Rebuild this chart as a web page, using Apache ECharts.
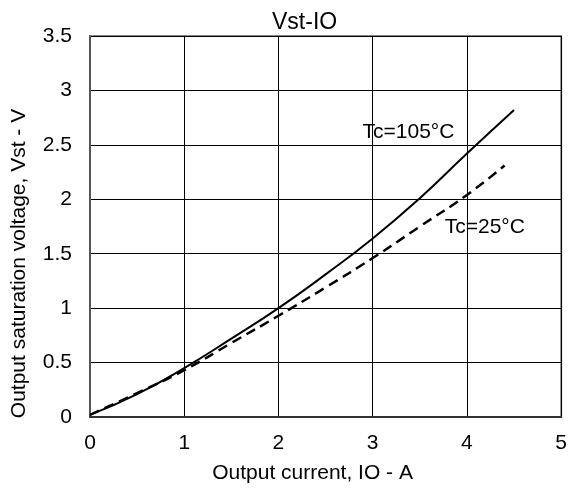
<!DOCTYPE html>
<html>
<head>
<meta charset="utf-8">
<script src="https://cdn.jsdelivr.net/npm/echarts@6/dist/echarts.min.js"></script>
<style>html,body{margin:0;padding:0;background:#fff}#c{width:570px;height:489px}</style>
</head>
<body>
<div id="c"></div>
<script>
var titleText = 'Vst-IO';
var xName = 'Output current, IO - A';
var yName = 'Output saturation voltage, Vst - V';
var ioHot = [0, 0.5, 1, 1.5, 2, 2.5, 3, 3.5, 4, 4.5];
var vstHot = [0.02, 0.21, 0.45, 0.72, 1.0, 1.31, 1.64, 2.01, 2.42, 2.82];
var ioRoom = [0, 0.5, 1, 1.5, 2, 2.5, 3, 3.5, 4, 4.4];
var vstRoom = [0.02, 0.22, 0.43, 0.68, 0.93, 1.19, 1.46, 1.75, 2.04, 2.31];
var hotLabel = 'Tc=105°C';
var roomLabel = 'Tc=25°C';
var hotLabelPos = [3.38, 2.62];
var roomLabelPos = [4.19, 1.74];

function pairs(xs, ys) { return xs.map(function (x, i) { return [x, ys[i]]; }); }

var chart = echarts.init(document.getElementById('c'), null, {renderer: 'canvas'});
var font = 'Liberation Sans, Arial, sans-serif';
chart.setOption({
  animation: false,
  textStyle: {fontFamily: font},
  title: {
    text: titleText, left: 267, top: 6,
    textStyle: {fontFamily: font, fontSize: 23, fontWeight: 'normal', color: '#000'}
  },
  grid: {left: 90, right: 7, top: 36, bottom: 68, show: true, borderColor: '#888', borderWidth: 2},
  xAxis: {
    type: 'value', min: 0, max: 5, interval: 1,
    name: xName, nameLocation: 'middle', nameGap: 46,
    nameTextStyle: {fontFamily: font, fontSize: 21, color: '#000', padding: [0, 26, 0, 0]},
    axisLine: {show: true, onZero: false, lineStyle: {color: '#333', width: 2}},
    axisTick: {show: false},
    axisLabel: {fontFamily: font, fontSize: 21, color: '#000', margin: 16},
    splitLine: {show: true, lineStyle: {color: '#000', width: 1}}
  },
  yAxis: {
    type: 'value', min: 0, max: 3.5, interval: 0.5,
    name: yName, nameLocation: 'middle', nameGap: 60,
    nameTextStyle: {fontFamily: font, fontSize: 21, color: '#000', padding: [0, 74, 0, 0]},
    axisLine: {show: true, onZero: false, lineStyle: {color: '#555', width: 2}},
    axisTick: {show: false},
    axisLabel: {fontFamily: font, fontSize: 21, color: '#000', margin: 18},
    splitLine: {show: true, lineStyle: {color: '#000', width: 1}}
  },
  series: [
    {
      type: 'line', data: pairs(ioHot, vstHot), smooth: true, symbol: 'none',
      lineStyle: {color: '#000', width: 2},
      markPoint: {
        symbol: 'circle', symbolSize: 0,
        label: {show: true, position: 'inside', formatter: hotLabel, fontFamily: font, fontSize: 21, color: '#000'},
        data: [{coord: hotLabelPos}]
      }
    },
    {
      type: 'line', data: pairs(ioRoom, vstRoom), smooth: true, symbol: 'none',
      lineStyle: {color: '#000', width: 2.5, type: [10, 6]},
      markPoint: {
        symbol: 'circle', symbolSize: 0,
        label: {show: true, position: 'inside', formatter: roomLabel, fontFamily: font, fontSize: 21, color: '#000'},
        data: [{coord: roomLabelPos}]
      }
    }
  ]
});
</script>
</body>
</html>
